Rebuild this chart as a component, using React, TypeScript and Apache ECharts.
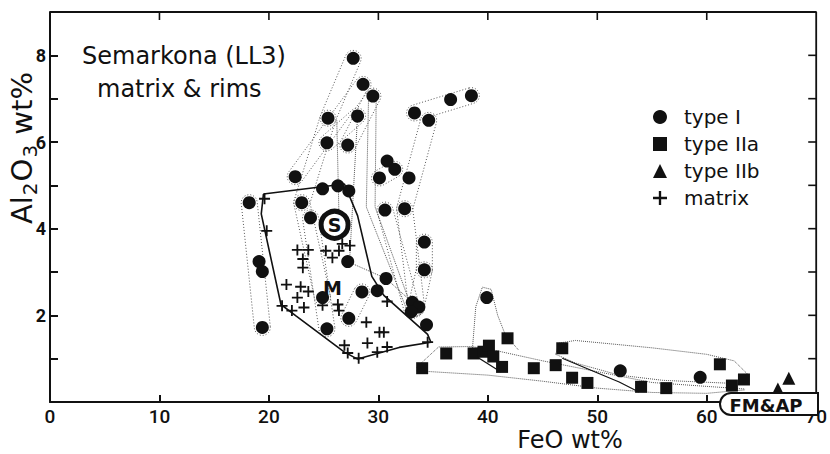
import React, { useEffect, useRef } from "react";
import * as echarts from "echarts";

// ---- data (FeO wt%, Al2O3 wt%) ----
const xTicks = [0, 10, 20, 30, 40, 50, 60, 70];
const yTickLabels = [2, 4, 6, 8];
const topTicks = [10, 20, 30, 40, 50, 60];
const rightTicks = [1, 2, 3, 4, 5, 6, 7, 8];
const X_MAX = 70;
const Y_MAX = 9;

const typeI: number[][] = [
  [27.7, 7.93], [28.6, 7.33], [29.5, 7.06], [25.4, 6.55], [28.1, 6.6], [25.3, 5.98], [27.2, 5.93],
  [22.4, 5.2], [30.8, 5.56], [31.5, 5.37], [30.1, 5.17], [32.8, 5.17], [33.3, 6.67], [34.6, 6.5],
  [36.6, 6.98], [38.5, 7.07], [24.9, 4.92], [26.3, 4.99], [27.3, 4.87], [23.0, 4.6], [18.2, 4.6],
  [30.6, 4.43], [32.4, 4.46], [23.8, 4.25], [19.1, 3.24], [19.4, 3.01], [19.4, 1.72], [24.9, 2.41],
  [25.3, 1.69], [27.2, 3.24], [30.7, 2.85], [28.5, 2.54], [27.3, 1.93], [29.9, 2.57], [34.2, 3.69],
  [34.2, 3.05], [33.1, 2.3], [33.7, 2.19], [33.0, 2.08], [34.4, 1.78], [39.9, 2.41], [52.1, 0.72],
  [59.4, 0.57],
];
const typeIIa: number[][] = [
  [34.0, 0.78], [36.2, 1.12], [38.7, 1.12], [39.6, 1.16], [40.1, 1.3], [40.5, 1.05], [41.3, 0.81],
  [41.8, 1.47], [44.2, 0.78], [46.2, 0.85], [46.8, 1.24], [47.7, 0.56], [49.1, 0.44], [54.0, 0.35],
  [56.3, 0.32], [61.2, 0.87], [62.3, 0.38], [63.4, 0.52],
];
const typeIIb: number[][] = [[66.5, 0.3], [67.5, 0.55]];
const matrix: number[][] = [
  [19.8, 3.95], [22.6, 3.51], [23.6, 3.51], [23.1, 3.3], [23.1, 3.1], [21.6, 2.71], [22.9, 2.66],
  [23.6, 2.55], [22.6, 2.41], [21.2, 2.22], [22.1, 2.11], [23.2, 2.18], [25.2, 3.49], [25.8, 3.33],
  [26.4, 3.49], [27.4, 3.61], [26.7, 3.65], [24.9, 2.23], [26.3, 2.25], [26.4, 2.11], [28.9, 1.84],
  [30.1, 1.61], [30.5, 1.61], [29.0, 1.36], [26.9, 1.31], [27.2, 1.13], [28.2, 1.01], [29.9, 1.15],
  [30.8, 1.27], [30.8, 2.32], [19.6, 4.69], [34.5, 1.38],
];
const sPoint: number[][] = [[26.0, 4.09]];
const mPoint: number[] = [25.8, 2.62];

// matrix field (solid outline)
const matrixField: number[][] = [
  [19.5, 4.8], [26.9, 5.03], [28.1, 4.3], [29.4, 2.9], [30.5, 2.46], [34.5, 1.56], [34.8, 1.38],
  [31.9, 1.26], [28.1, 0.99], [26.9, 1.15], [22.5, 1.98], [21.1, 2.25], [19.3, 4.34], [19.5, 4.8],
];
const solidLines: number[][][] = [
  [[39.2, 1.01], [41.2, 0.69]],
  [[46.8, 1.01], [52.0, 0.46], [53.8, 0.23]],
];

// dotted capsules linking chondrule core/rim analyses
const capsules: number[][][] = [
  [[18.2, 4.6], [19.4, 1.72]],
  [[22.4, 5.2], [28.6, 7.33]],
  [[25.4, 6.55], [27.7, 7.93]],
  [[27.2, 5.93], [29.5, 7.06]],
  [[25.3, 5.98], [28.1, 6.6]],
  [[23.0, 4.6], [25.4, 6.55]],
  [[23.0, 4.6], [24.9, 2.41]],
  [[23.8, 4.25], [25.3, 1.69]],
  [[27.3, 1.93], [28.5, 2.54]],
  [[30.6, 4.43], [33.1, 2.11]],
  [[32.4, 4.46], [33.5, 2.18]],
  [[32.4, 4.46], [34.6, 6.5]],
  [[33.3, 6.67], [38.5, 7.07]],
  [[34.2, 3.69], [34.2, 3.05]],
  [[34.2, 3.05], [33.4, 2.15]],
  [[30.1, 5.17], [31.5, 5.37]],
];
const dottedPaths: number[][][] = [
  [[29.8, 7.0], [29.7, 4.5], [33.0, 2.2]],
  [[29.1, 7.0], [28.9, 4.5], [32.8, 2.0]],
  [[27.2, 3.24], [30.7, 2.85], [33.1, 2.3]],
  [[28.1, 6.6], [27.4, 3.4]],
  [[26.2, 6.5], [26.4, 4.3]],
  [[38.6, 1.25], [38.9, 2.2], [39.5, 2.65], [40.3, 2.6], [40.9, 2.0], [41.6, 1.55], [42.8, 1.2]],
  [[33.5, 0.8], [35.5, 1.27], [38.5, 1.28], [40.5, 1.2], [45.0, 0.95], [50.0, 0.7], [55.0, 0.45],
   [60.0, 0.36], [63.5, 0.3]],
  [[33.5, 0.72], [40.0, 0.62], [45.0, 0.48], [50.0, 0.32], [55.0, 0.22], [60.0, 0.2], [63.5, 0.28]],
  [[46.2, 1.1], [46.5, 1.36], [48.0, 1.42], [55.0, 1.25], [60.0, 1.1], [62.5, 0.95], [63.9, 0.6],
   [63.2, 0.42], [56.0, 0.5], [52.0, 0.62], [48.0, 0.9], [46.2, 1.1]],
];

const PLUS = "path://M5,0L7,0L7,5L12,5L12,7L7,7L7,12L5,12L5,7L0,7L0,5L5,5Z";
const INK = "#111";

export default function App() {
  const ref = useRef<HTMLDivElement>(null);
  useEffect(() => {
    if (!ref.current) return;
    const chart = echarts.init(ref.current, undefined, { renderer: "svg" });
    const dotted = { type: "dotted" as const, width: 1, color: "#555" };
    // tick lengths in data units (8 px on a 768 x 390 px plot)
    const tickY = (8 / 390) * Y_MAX;
    const tickX = (8 / 768) * X_MAX;
    const frameSeries: any[] = [
      {
        type: "line", name: "frame", data: [[0, Y_MAX], [X_MAX, Y_MAX], [X_MAX, 0]],
        showSymbol: false, symbol: "none", silent: true, clip: false, z: 6,
        lineStyle: { color: INK, width: 1.8 },
      },
      ...topTicks.map((v, i) => ({
        type: "line", name: "tt" + i, data: [[v, Y_MAX], [v, Y_MAX - tickY]],
        showSymbol: false, symbol: "none", silent: true, clip: false, z: 6,
        lineStyle: { color: INK, width: 1.6 },
      })),
      ...rightTicks.map((v, i) => ({
        type: "line", name: "rt" + i, data: [[X_MAX, v], [X_MAX - tickX, v]],
        showSymbol: false, symbol: "none", silent: true, clip: false, z: 6,
        lineStyle: { color: INK, width: 1.6 },
      })),
    ];
    const option: any = {
      animation: false,
      backgroundColor: "#fff",
      grid: { left: 50, right: 12, top: 12, bottom: 52, containLabel: false },
      xAxis: {
        type: "value", min: 0, max: X_MAX, interval: 10, position: "bottom",
        splitLine: { show: false },
        axisLine: { show: true, onZero: false, lineStyle: { color: INK, width: 2 } },
        axisTick: { show: true, inside: true, length: 7, lineStyle: { color: INK, width: 2 } },
        axisLabel: {
          margin: 5, lineHeight: 18, color: INK, fontFamily: "Roboto", fontWeight: 500, fontSize: 19,
          formatter: (v: number) => (xTicks.includes(v) ? String(v) : ""),
        },
      },
      yAxis: {
        type: "value", min: 0, max: Y_MAX, interval: 1, position: "left",
        splitLine: { show: false },
        axisLine: { show: true, onZero: false, lineStyle: { color: INK, width: 2 } },
        axisTick: { show: true, inside: true, length: 8, lineStyle: { color: INK, width: 2 } },
        axisLabel: {
          margin: 4, color: INK, fontFamily: "Roboto", fontWeight: "bold", fontSize: 18,
          formatter: (v: number) => (yTickLabels.includes(v) ? String(v) : ""),
        },
      },
      legend: {
        data: ["type I", "type IIa", "type IIb", "matrix"],
        orient: "vertical", left: 648, top: 102, itemWidth: 14, itemHeight: 14, itemGap: 7,
        textStyle: { color: INK, fontFamily: "DejaVu Sans", fontSize: 20, padding: [0, 0, 0, 12] },
        selectedMode: false,
      },
      series: [
        ...frameSeries,
        {
          type: "custom", name: "capsules", silent: true, z: 1,
          data: capsules.map(([p, q]) => [p[0], p[1], q[0], q[1]]),
          encode: { x: [0, 2], y: [1, 3] },
          renderItem: (_p: any, api: any) => {
            const a = api.coord([api.value(0), api.value(1)]);
            const b = api.coord([api.value(2), api.value(3)]);
            const r = 8;
            const ang = Math.atan2(b[1] - a[1], b[0] - a[0]);
            const pts: number[][] = [];
            for (let i = 0; i <= 12; i++) {
              const t = ang - Math.PI / 2 + (Math.PI * i) / 12;
              pts.push([b[0] + r * Math.cos(t), b[1] + r * Math.sin(t)]);
            }
            for (let i = 0; i <= 12; i++) {
              const t = ang + Math.PI / 2 + (Math.PI * i) / 12;
              pts.push([a[0] + r * Math.cos(t), a[1] + r * Math.sin(t)]);
            }
            return {
              type: "polygon", shape: { points: pts },
              style: { fill: "none", stroke: "#555", lineWidth: 1, lineDash: [1, 2] },
            };
          },
        },
        ...dottedPaths.map((d, i) => ({
          type: "line", name: "dot" + i, data: d, showSymbol: false, symbol: "none",
          lineStyle: dotted, silent: true, z: 1,
        })),
        {
          type: "line", name: "matrix field", data: matrixField, showSymbol: false, symbol: "none",
          lineStyle: { color: INK, width: 1.6 }, silent: true, z: 2,
        },
        ...solidLines.map((d, i) => ({
          type: "line", name: "solid" + i, data: d, showSymbol: false, symbol: "none",
          lineStyle: { color: INK, width: 1.2 }, silent: true, z: 2,
        })),
        {
          type: "scatter", name: "type I", data: typeI, symbol: "circle", symbolSize: 13,
          itemStyle: { color: INK, opacity: 1 }, z: 3,
        },
        {
          type: "scatter", name: "type IIa", data: typeIIa, symbol: "rect", symbolSize: 12,
          itemStyle: { color: INK, opacity: 1 }, z: 3,
        },
        {
          type: "scatter", name: "type IIb", data: typeIIb, symbol: "triangle", symbolSize: 13,
          itemStyle: { color: INK, opacity: 1 }, z: 3,
        },
        {
          type: "scatter", name: "matrix", data: matrix, symbol: PLUS, symbolSize: 11,
          itemStyle: { color: INK, opacity: 1 }, z: 3,
        },
        {
          type: "scatter", name: "S", data: sPoint, symbol: "circle", symbolSize: 27, z: 5,
          itemStyle: { color: "#fff", borderColor: INK, borderWidth: 5, opacity: 1 },
          label: {
            show: true, position: "inside", formatter: "S", color: INK,
            fontFamily: "DejaVu Sans", fontWeight: "bold", fontSize: 19,
          },
        },
      ],
    };
    chart.setOption(option);

    const mp = chart.convertToPixel({ gridIndex: 0 }, mPoint) as number[];
    chart.setOption({
      graphic: [
        {
          type: "text", left: 82, top: 44, z: 10,
          style: { text: "Semarkona (LL3)", fontFamily: "DejaVu Sans", fontSize: 24, fill: INK },
        },
        {
          type: "text", left: 97, top: 77, z: 10,
          style: { text: "matrix & rims", fontFamily: "DejaVu Sans", fontSize: 24, fill: INK },
        },
        {
          type: "text", x: 570, y: 440, z: 10,
          style: {
            text: "FeO wt%", fontFamily: "DejaVu Sans", fontSize: 24, lineHeight: 22, fill: INK,
            align: "center", verticalAlign: "middle",
          },
        },
        {
          type: "text", x: 22, y: 148, rotation: Math.PI / 2, z: 10,
          style: {
            text: "{b|Al}{s|2}{b|O}{s|3}{b| wt%}",
            align: "center", verticalAlign: "middle", fill: INK,
            rich: {
              b: { fontFamily: "DejaVu Sans", fontSize: 29, fill: INK, lineHeight: 36 },
              s: { fontFamily: "DejaVu Sans", fontSize: 20, fill: INK, padding: [15, 1, 0, 1], lineHeight: 36 },
            },
          },
        },
        {
          type: "rect", x: 720, y: 393, z: 20,
          shape: { width: 98, height: 22, r: [11, 0, 0, 11] },
          style: { fill: "#fff", stroke: INK, lineWidth: 2 },
        },
        {
          type: "text", x: 766, y: 405, z: 21,
          style: {
            text: "FM&AP", fontFamily: "DejaVu Sans", fontWeight: "bold", fontSize: 18, fill: INK,
            align: "center", verticalAlign: "middle",
          },
        },
        {
          type: "text", x: mp[0], y: mp[1], z: 12,
          style: {
            text: "M", fontFamily: "DejaVu Sans", fontWeight: "bold", fontSize: 19, fill: INK,
            align: "center", verticalAlign: "middle",
          },
        },
      ],
    });
    return () => chart.dispose();
  }, []);
  return (
    <div
      ref={ref}
      style={{ position: "fixed", left: 0, top: 0, width: 830, height: 454, background: "#fff" }}
    />
  );
}
